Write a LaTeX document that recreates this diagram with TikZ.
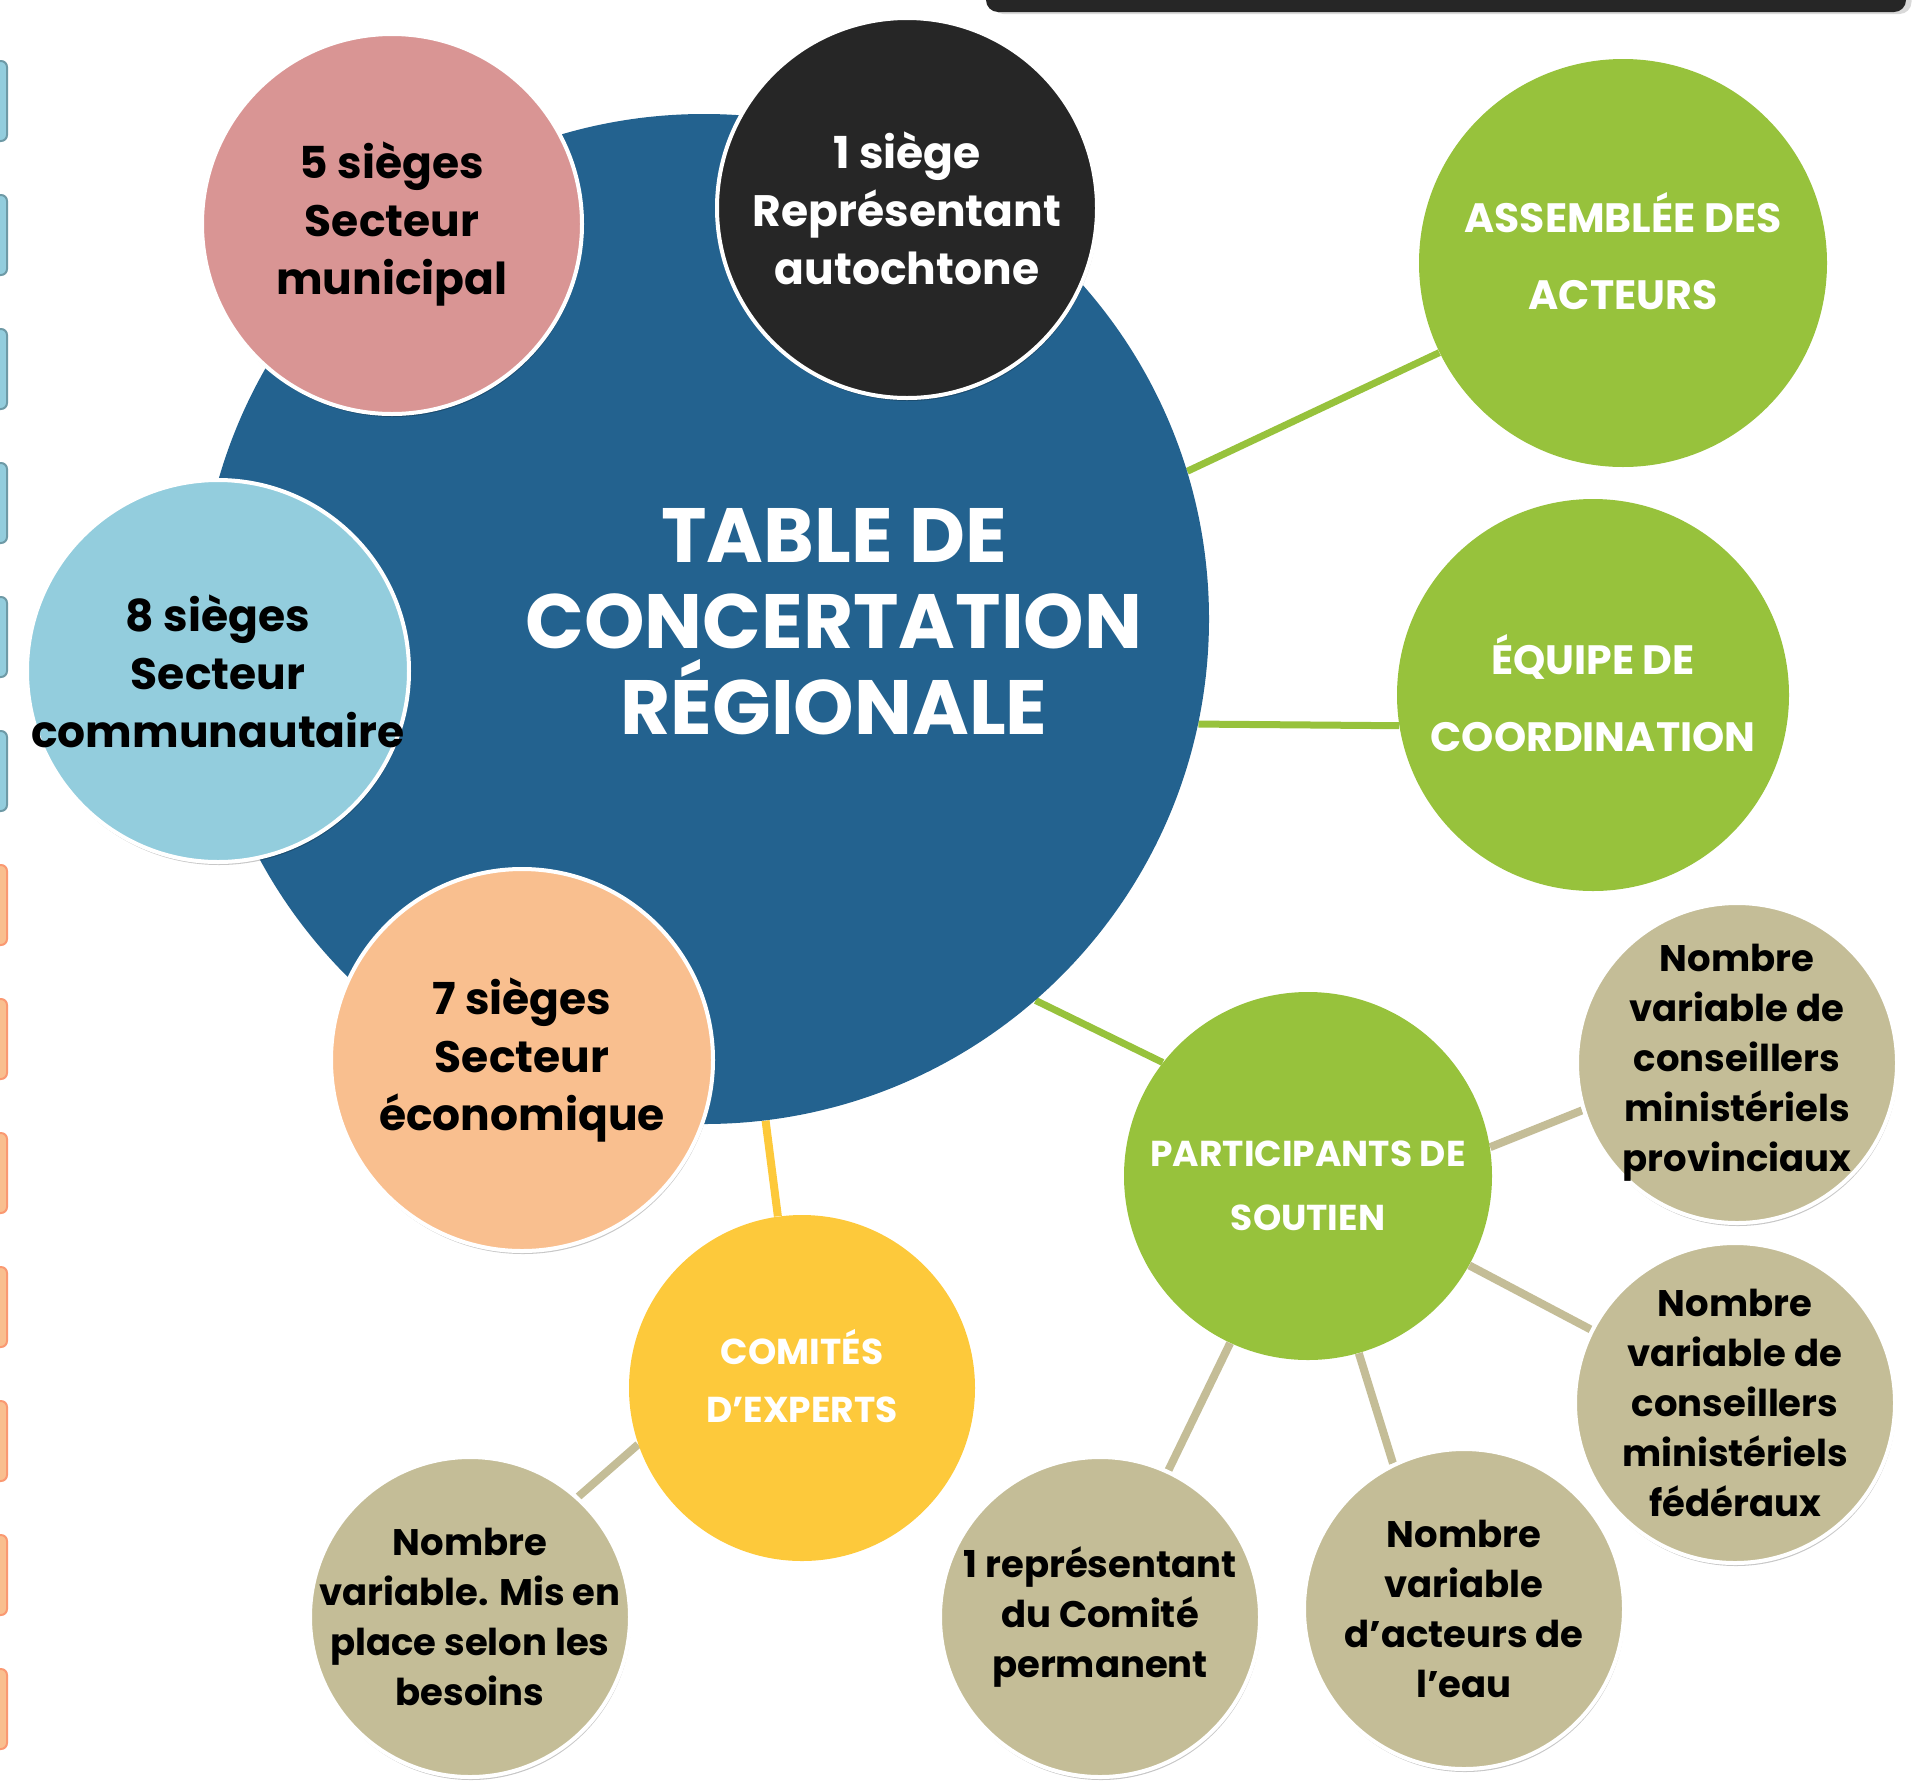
\documentclass[tikz,border=0pt]{standalone}
\usepackage{fontspec}
\setmainfont{Poppins}
\usetikzlibrary{positioning, shadows, backgrounds}
\definecolor{bleu}{HTML}{23628F}
\definecolor{rose}{HTML}{D99594}
\definecolor{noir}{HTML}{262626}
\definecolor{ciel}{HTML}{93CDDD}
\definecolor{peche}{HTML}{F9BF8F}
\definecolor{vert}{HTML}{97C23C}
\definecolor{jaune}{HTML}{FDC93B}
\definecolor{beige}{HTML}{C4BD97}
\tikzset{bulle/.style={circle, draw=white, line width=2pt, inner sep=-40pt, align=center,
    drop shadow={shadow xshift=0.5pt, shadow yshift=-1.5pt, fill=black, opacity=0.22}},
  siege/.style={bulle, font=\bfseries\fontsize{22}{29}\selectfont},
  conseil/.style={bulle, fill=beige, minimum size=160pt, font=\bfseries\fontsize{18.5}{25}\selectfont},
  groupe/.style={circle, inner sep=0pt, fill=vert},
  groupe texte/.style={align=center, text=white, font=\bfseries\fontsize{20.5}{38.5}\selectfont},
  lien/.style={line width=3.5pt}, onglet/.style={rounded corners=3pt, line width=1pt}}

\begin{document}
\begin{tikzpicture}[x=0.5pt, y=-0.5pt]
      \useasboundingbox (0,0) rectangle (1921,1783);
      \foreach \y in {61,195,...,731} \draw[onglet, fill=ciel, draw=ciel!75!black] (-12,\y) rectangle (7,\y+80);
      \foreach \y in {865,999,...,1669} \draw[onglet, fill=peche, draw=peche!80!red] (-12,\y) rectangle (7,\y+80);
      \fill[noir, rounded corners=6pt, drop shadow={shadow yshift=-1pt, opacity=0.3}] (986,-20) rectangle (1906,12);

      \node[circle, fill=bleu, minimum size=505pt] (tcr) at (704,619) {};
      \node[align=center, text=white, font=\bfseries\fontsize{38.5}{43}\selectfont] (titre) at (834,622) {TABLE DE\\CONCERTATION\\RÉGIONALE};
      \node[siege, fill=rose, minimum size=190pt] (municipal) at (392,224) {5 sièges\\Secteur\\municipal};
      \node[siege, fill=noir, text=white, minimum size=190pt] (autochtone) at (907,208) {1 siège\\Représentant\\autochtone};
      \node[siege, fill=ciel, minimum size=191pt] (communautaire) at (218,671) {8 sièges\\Secteur\\communautaire};
      \node[siege, fill=peche, minimum size=191pt] (economique) at (522,1060) {7 sièges\\Secteur\\économique};

      \node[groupe, minimum size=204pt, label={[groupe texte, yshift=6pt]center:ASSEMBLÉE DES\\ACTEURS}] (assemblee) at (1623,263) {};
      \node[groupe, minimum size=196pt, label={[groupe texte, yshift=1pt]center:ÉQUIPE DE\\COORDINATION}] (equipe) at (1593,695) {};
      \node[groupe, minimum size=184pt, label={[groupe texte, yshift=-5pt, font=\bfseries\fontsize{18}{32}\selectfont]center:PARTICIPANTS DE\\SOUTIEN}] (participants) at (1308,1176) {};
      \node[groupe, fill=jaune, minimum size=173pt, label={[groupe texte, yshift=6pt, font=\bfseries\fontsize{18}{29}\selectfont]center:COMITÉS\\D’EXPERTS}] (comites) at (802,1388) {};

      \node[conseil] (provinciaux) at (1737,1063) {Nombre\\variable de\\conseillers\\ministériels\\provinciaux};
      \node[conseil] (federaux) at (1735,1403) {Nombre\\variable de\\conseillers\\ministériels\\fédéraux};
      \node[conseil] (eau) at (1464,1609) {Nombre\\variable\\d’acteurs de\\l’eau};
      \node[conseil] (permanent) at (1100,1617) {1 représentant\\du Comité\\permanent};
      \node[conseil] (besoins) at (470,1617) {Nombre\\variable. Mis en\\place selon les\\besoins};

      \begin{scope}[on background layer]
            \draw[lien, vert] (tcr.17) -- (assemblee.206);
            \draw[lien, vert] (tcr.-12) -- (equipe.189);
            \draw[lien, vert] (tcr.-49) -- (participants.142);
            \draw[lien, jaune, line width=4pt] (tcr.-83) -- (comites.98);
            \draw[lien, beige, line width=4pt] (comites.199) -- (besoins.48);
            \draw[lien, beige, line width=4pt] (participants.9) -- (provinciaux.197);
            \draw[lien, beige, line width=4pt] (participants.-29) -- (federaux.153);
            \draw[lien, beige, line width=4pt] (participants.245) -- (permanent.65);
            \draw[lien, beige, line width=4pt] (participants.286) -- (eau.116);
      \end{scope}
\end{tikzpicture}
\end{document}
